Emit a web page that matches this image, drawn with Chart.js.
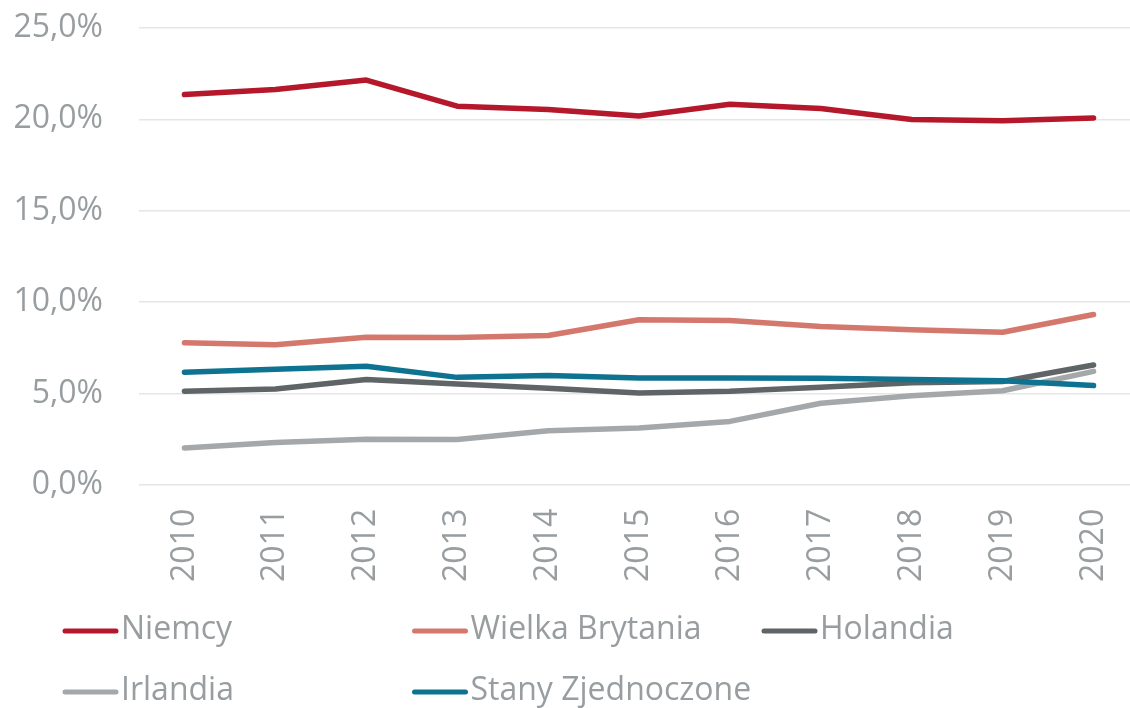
<!DOCTYPE html>
<html>
<head>
    <meta charset="utf-8">
    <script src="https://cdn.jsdelivr.net/npm/chart.js@4.4.0/dist/chart.umd.min.js"></script>
    <title>Udział w rynku</title>
    <style>
        body { margin: 0; background: #fff; overflow: hidden; }
        #chart-area { width: 1140px; height: 708px; }
    </style>
</head>
<body>
<div id="chart-area">
    <canvas id="myChart" width="1140" height="708"></canvas>
</div>

<script>
    // years on the x axis
    var years = ['2010', '2011', '2012', '2013', '2014', '2015', '2016', '2017', '2018', '2019', '2020'];

    // values in %
    var niemcy = [21.36, 21.64, 22.15, 20.72, 20.54, 20.18, 20.83, 20.60, 19.99, 19.92, 20.07];
    var wielkaBrytania = [7.77, 7.66, 8.08, 8.06, 8.17, 9.03, 8.99, 8.66, 8.48, 8.35, 9.32];
    var holandia = [5.12, 5.24, 5.76, 5.52, 5.28, 5.03, 5.12, 5.34, 5.58, 5.65, 6.56];
    var irlandia = [2.01, 2.32, 2.50, 2.48, 2.96, 3.11, 3.47, 4.46, 4.88, 5.15, 6.21];
    var stanyZjednoczone = [6.16, 6.32, 6.49, 5.88, 5.98, 5.85, 5.85, 5.83, 5.77, 5.70, 5.43];

    var seriesNames = ['Niemcy', 'Wielka Brytania', 'Holandia', 'Irlandia', 'Stany Zjednoczone'];
    var seriesColors = ['#b5182b', '#d4786d', '#5f6467', '#a5a8ab', '#0e7391'];

    var textGray = '#989da0';
    var fontName = "'Open Sans', sans-serif";

    // legend drawn on the canvas in a 3-column grid, like the original
    var gridLegend = {
        id: 'gridLegend',
        afterDraw: function (chart) {
            var ctx = chart.ctx;
            ctx.save();
            ctx.font = '32px ' + fontName;
            ctx.textBaseline = 'middle';
            ctx.textAlign = 'left';
            chart.data.datasets.forEach(function (ds, i) {
                var col = i % 3;
                var row = Math.floor(i / 3);
                var x = 63 + col * 349.5;
                var y = 631 + row * 61;
                ctx.strokeStyle = ds.borderColor;
                ctx.lineWidth = 5;
                ctx.lineCap = 'round';
                ctx.beginPath();
                ctx.moveTo(x + 2, y);
                ctx.lineTo(x + 53, y);
                ctx.stroke();
                ctx.fillStyle = textGray;
                ctx.fillText(ds.label, x + 58, y - 1);
            });
            ctx.restore();
        }
    };

    var datasets = [niemcy, wielkaBrytania, holandia, irlandia, stanyZjednoczone].map(function (vals, i) {
        return {
            label: seriesNames[i],
            data: vals,
            borderColor: seriesColors[i],
            backgroundColor: seriesColors[i],
            borderWidth: 5.5,
            borderCapStyle: 'round',
            borderJoinStyle: 'round',
            pointRadius: 0,
            tension: 0,
            order: 5 - i // later series on top, as in the source
        };
    });

    var ctx = document.getElementById('myChart').getContext('2d');
    var myChart = new Chart(ctx, {
        type: 'line',
        data: {
            labels: years,
            datasets: datasets
        },
        plugins: [gridLegend],
        options: {
            responsive: false,
            animation: false,
            layout: {
                padding: { top: 28, right: 1, bottom: 102, left: 0 }
            },
            scales: {
                x: {
                    offset: true,
                    afterFit: function (scale) { scale.paddingLeft = 0; scale.paddingRight = 0; },
                    grid: { display: false, drawTicks: false },
                    border: { display: false },
                    ticks: {
                        color: textGray,
                        font: { family: fontName, size: 32 },
                        minRotation: 90,
                        maxRotation: 90,
                        autoSkip: false,
                        padding: 24
                    }
                },
                y: {
                    min: 0,
                    max: 25,
                    afterFit: function (scale) {
                        scale.width = 139;
                        scale.paddingTop = 0;
                        scale.paddingBottom = 0;
                    },
                    grid: { color: '#e6e6e6', lineWidth: 1.5, drawTicks: false },
                    border: { display: false },
                    ticks: {
                        stepSize: 5,
                        color: textGray,
                        font: { family: fontName, size: 32 },
                        padding: 36,
                        callback: function (v) { return v.toFixed(1).replace('.', ',') + '%'; }
                    }
                }
            },
            plugins: {
                legend: { display: false },
                title: { display: false },
                tooltip: { enabled: false }
            }
        }
    });
</script>

</body>
</html>
